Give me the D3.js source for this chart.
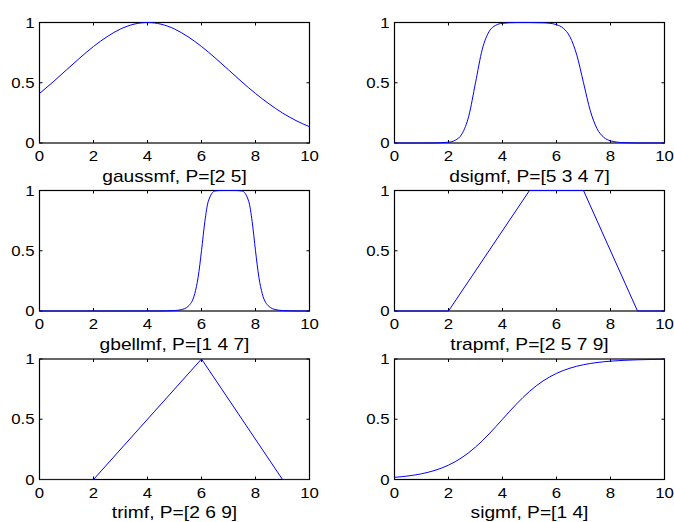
<!DOCTYPE html>
<html>
<head>
<meta charset="utf-8">
<script src="https://cdn.jsdelivr.net/npm/d3@7"></script>
<style>
  body { margin: 0; background: #fff; }
  svg text { font-family: "Liberation Sans", Arial, Helvetica, sans-serif; fill: #000; }
</style>
</head>
<body>
<svg id="fig" width="674" height="522"></svg>
<script>
// Tick values shared by every panel
const xTicks = [0, 2, 4, 6, 8, 10];
const yTicks = [0, 0.5, 1];
const yTickLabels = ["0", "0.5", "1"];

// Panel captions, row by row
const titles = [
  "gaussmf, P=[2 5]", "dsigmf, P=[5 3 4 7]",
  "gbellmf, P=[1 4 7]", "trapmf, P=[2 5 7 9]",
  "trimf, P=[2 6 9]", "sigmf, P=[1 4]"
];

// Membership values per panel
const gaussX = [0,0.5,1,1.5,2,2.5,3,3.5,4,4.5,5,5.5,6,6.5,7,7.5,8,8.5,9,9.5,10];
const gaussY = [0.411,0.506,0.607,0.707,0.801,0.882,0.946,0.986,1,0.986,0.946,0.882,0.801,0.707,0.607,0.506,0.411,0.325,0.249,0.186,0.135];

const dsigX = [0,1,1.5,2,2.25,2.5,2.75,3,3.25,3.5,3.75,4,4.5,5,5.5,5.75,6,6.25,6.5,6.75,7,7.25,7.5,7.75,8,8.5,9,10];
const dsigY = [0,0,0.0006,0.0067,0.023,0.0759,0.2227,0.5,0.7773,0.9241,0.977,0.9933,0.9994,0.9996,0.9975,0.9933,0.982,0.9526,0.8808,0.7311,0.5,0.2689,0.1192,0.0474,0.018,0.0025,0.0003,0];

const bellX = [0,2,4,4.5,5,5.25,5.5,5.75,5.875,6,6.125,6.25,6.5,6.75,7,7.25,7.5,7.75,7.875,8,8.125,8.25,8.5,8.75,9,9.5,10];
const bellY = [0,0,0.00015,0.0007,0.0039,0.0112,0.0376,0.1437,0.28,0.5,0.744,0.909,0.9961,1,1,1,0.9961,0.909,0.744,0.5,0.28,0.1437,0.0376,0.0112,0.0039,0.0007,0.00015];

const trapX = [0, 2, 5, 7, 9, 10];
const trapY = [0, 0, 1, 1, 0, 0];

const triX = [0, 2, 6, 9, 10];
const triY = [0, 0, 1, 0, 0];

const sigX = [0,0.5,1,1.5,2,2.5,3,3.5,4,4.5,5,5.5,6,6.5,7,7.5,8,8.5,9,9.5,10];
const sigY = [0.018,0.0293,0.0474,0.0759,0.1192,0.1824,0.2689,0.3775,0.5,0.6225,0.7311,0.8176,0.8808,0.9241,0.9526,0.9707,0.982,0.989,0.9933,0.9959,0.9975];

const panels = [
  { xs: gaussX, ys: gaussY, smooth: true },
  { xs: dsigX,  ys: dsigY,  smooth: true },
  { xs: bellX,  ys: bellY,  smooth: true },
  { xs: trapX,  ys: trapY,  smooth: false },
  { xs: triX,   ys: triY,   smooth: false },
  { xs: sigX,   ys: sigY,   smooth: true }
];

// Subplot grid geometry
const colLeft = [39, 394];
const rowTop = [22, 190, 358.5];
const W = 270, H = 120.5;
const tickLen = 3;
const textStretch = 1.2;

const svg = d3.select("#fig");

const x = d3.scaleLinear().domain([0, 10]).range([0, W]);
const y = d3.scaleLinear().domain([0, 1]).range([H, 0]);

function stretchedText(g, px, py, str, size, anchor) {
  return g.append("text")
    .attr("transform", `translate(${px},${py}) scale(${textStretch},1)`)
    .attr("text-anchor", anchor)
    .attr("font-size", size)
    .text(str);
}

panels.forEach((p, i) => {
  const col = i % 2, row = Math.floor(i / 2);
  const g = svg.append("g")
    .attr("transform", `translate(${colLeft[col] + 0.5},${rowTop[row] + 0.5})`);

  // the curve
  const pts = p.xs.map((v, k) => [v, p.ys[k]]);
  const line = d3.line()
    .x(d => x(d[0]))
    .y(d => y(d[1]))
    .curve(p.smooth ? d3.curveMonotoneX : d3.curveLinear);

  // ticks on all four sides, pointing inward
  const tk = g.append("g").attr("stroke", "#000").attr("stroke-width", 1);
  xTicks.forEach(t => {
    tk.append("line").attr("x1", x(t)).attr("x2", x(t)).attr("y1", H).attr("y2", H - tickLen);
    tk.append("line").attr("x1", x(t)).attr("x2", x(t)).attr("y1", 0).attr("y2", tickLen);
  });
  yTicks.forEach(t => {
    tk.append("line").attr("x1", 0).attr("x2", tickLen).attr("y1", y(t)).attr("y2", y(t));
    tk.append("line").attr("x1", W).attr("x2", W - tickLen).attr("y1", y(t)).attr("y2", y(t));
  });

  // axes box
  g.append("rect")
    .attr("x", 0).attr("y", 0).attr("width", W).attr("height", H)
    .attr("fill", "none").attr("stroke", "#000").attr("stroke-width", 1.2);

  g.append("path")
    .datum(pts)
    .attr("d", line)
    .attr("fill", "none")
    .attr("stroke", "#0000ff")
    .attr("stroke-width", 1);

  // tick labels
  xTicks.forEach(t => stretchedText(g, x(t), H + 18, String(t), 14, "middle"));
  yTicks.forEach((t, k) => stretchedText(g, -5, y(t) + 5, yTickLabels[k], 14, "end"));

  // caption below the axes
  stretchedText(g, W / 2, H + 38.5, titles[i], 16, "middle");
});
</script>
</body>
</html>
